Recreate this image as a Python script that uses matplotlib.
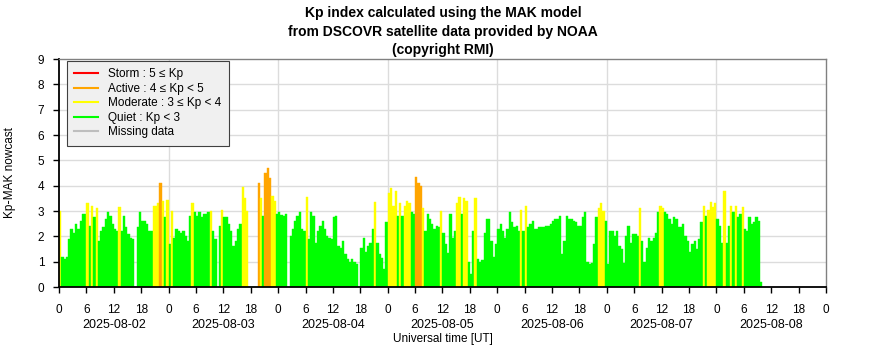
import matplotlib
matplotlib.use("Agg")
import matplotlib.pyplot as plt
from matplotlib.lines import Line2D

# Kp-MAK nowcast, one value per 30 min from 2025-08-02 00:00 UT
# (0 = no data)
kp_aug02 = [
    3.0, 1.2, 1.1, 1.2, 1.9, 2.3, 2.15, 2.5, 2.3, 2.6,
    2.9, 2.9, 3.3, 2.4, 3.2, 2.75, 3.1, 1.8, 2.2, 2.35,
    2.7, 2.95, 2.8, 2.5, 2.3, 2.2, 3.15, 2.2, 2.8, 2.35,
    2.1, 1.95, 1.9, 0, 2.35, 2.95, 2.6, 2.6, 2.5, 2.2,
    2.2, 3.2, 3.2, 3.3, 4.1, 3.4, 2.75, 3.45,
]
kp_aug03 = [
    1.7, 3.0, 1.95, 2.3, 2.2, 2.15, 2.2, 2.0, 1.8, 2.8,
    3.3, 2.95, 2.8, 2.95, 2.75, 2.9, 2.9, 2.95, 3.0, 2.2,
    1.9, 0, 2.4, 3.05, 2.75, 2.75, 2.5, 2.2, 1.6, 1.8,
    2.3, 2.5, 3.95, 3.5, 3.0, 0, 0, 0, 0, 4.1,
    3.5, 2.8, 4.5, 4.7, 4.3, 3.6, 3.4, 2.9,
]
kp_aug04 = [
    2.95, 2.85, 2.8, 2.9, 0, 2.0, 2.3, 2.6, 2.8, 2.95,
    2.3, 2.2, 3.55, 1.9, 2.95, 2.8, 1.75, 2.2, 2.4, 2.6,
    2.3, 2.0, 1.95, 1.9, 2.75, 2.8, 1.6, 1.55, 1.8, 1.3,
    1.1, 1.0, 1.1, 1.0, 0.9, 0, 1.55, 1.95, 1.4, 1.6,
    1.75, 2.3, 3.35, 1.75, 1.3, 1.15, 0.7, 2.55,
]
kp_aug05 = [
    3.7, 3.9, 3.2, 3.8, 2.8, 3.3, 2.8, 3.2, 3.4, 3.3,
    2.95, 2.9, 4.35, 4.1, 4.0, 3.1, 2.2, 2.9, 2.7, 2.5,
    2.3, 2.4, 2.35, 3.0, 2.15, 1.7, 1.35, 2.9, 1.95, 2.2,
    3.3, 3.55, 2.9, 3.5, 3.4, 1.0, 0.5, 2.2, 3.5, 1.1,
    1.0, 1.05, 2.15, 2.7, 2.7, 1.8, 1.2, 1.7,
]
kp_aug06 = [
    2.3, 2.5, 2.2, 1.95, 2.3, 2.95, 2.55, 2.35, 2.4, 2.2,
    3.05, 2.2, 3.2, 2.35, 2.5, 2.6, 2.3, 2.3, 2.35, 2.35,
    2.35, 2.4, 2.4, 2.5, 2.6, 2.7, 2.7, 2.8, 1.3, 1.8,
    2.8, 2.7, 2.7, 2.6, 2.55, 2.4, 2.4, 2.75, 2.95, 1.0,
    0.9, 0.95, 1.7, 2.75, 3.1, 3.3, 3.0, 2.6,
]
kp_aug07 = [
    0.9, 2.2, 2.2, 2.0, 2.2, 1.6, 1.5, 0.95, 2.0, 2.4,
    1.75, 2.1, 2.1, 2.0, 3.1, 1.8, 1.0, 1.55, 1.95, 1.8,
    1.95, 2.15, 2.95, 3.2, 3.1, 2.95, 2.9, 2.7, 2.5, 2.75,
    2.7, 2.35, 2.35, 2.5, 2.0, 1.8, 1.4, 1.7, 1.8, 1.5,
    1.9, 2.55, 3.2, 2.8, 3.05, 3.35, 3.15, 3.3,
]
kp_aug08 = [
    2.7, 2.4, 1.75, 3.8, 1.75, 2.4, 3.2, 2.95, 3.2, 2.75,
    2.9, 3.15, 2.3, 2.2, 2.75, 2.5, 2.55, 2.75, 2.6, 0.2,
]

step_hours = 0.5
days = ["2025-08-02", "2025-08-03", "2025-08-04", "2025-08-05",
        "2025-08-06", "2025-08-07", "2025-08-08"]
hour_labels = ["0", "6", "12", "18"]

legend_labels = ["Storm : 5 \u2264 Kp", "Active : 4 \u2264 Kp < 5",
                 "Moderate : 3 \u2264 Kp < 4", "Quiet : Kp < 3", "Missing data"]
legend_colors = ["#FF0000", "#FFA500", "#FFFF00", "#00FF00", "#BEBEBE"]


def kp_color(v):
    if v >= 5:
        return legend_colors[0]
    if v >= 4:
        return legend_colors[1]
    if v >= 3:
        return legend_colors[2]
    return legend_colors[3]


def main() -> None:
    plt.rcParams.update({
        "font.family": ["Liberation Sans", "DejaVu Sans"],
        "font.size": 8.5,
    })

    kp = kp_aug02 + kp_aug03 + kp_aug04 + kp_aug05 + kp_aug06 + kp_aug07 + kp_aug08
    hours = [i * step_hours for i in range(len(kp))]
    colors = [kp_color(v) for v in kp]

    fig = plt.figure(figsize=(8.86, 3.6), dpi=100)
    ax = fig.add_axes([59 / 886, 73 / 360, 767 / 886, 228 / 360])

    total_hours = 24 * len(days)
    for h in range(24, total_hours, 24):
        ax.axvline(h, color="#DCDCDC", linewidth=1.0, zorder=0)
    for y in range(1, 9):
        ax.axhline(y, color="#DCDCDC", linewidth=1.0, zorder=0)

    ax.bar(hours, kp, width=step_hours, align="edge", color=colors,
           edgecolor=colors, linewidth=0.3, zorder=2)

    ax.set_xlim(0, total_hours)
    ax.set_ylim(0, 9)
    ax.set_yticks(range(0, 10))
    ticks = list(range(0, total_hours + 1, 6))
    ax.set_xticks(ticks)
    ax.set_xticklabels([hour_labels[(t // 6) % 4] for t in ticks])
    ax.tick_params(axis="x", direction="out", length=4.5, width=1.0, pad=8)
    ax.tick_params(axis="y", direction="out", length=4.5, width=1.0, pad=6)

    for d, label in enumerate(days):
        ax.text(d * 24 + 12, -0.168, label, transform=ax.get_xaxis_transform(),
                ha="center", va="center", fontsize=9)
    ax.text(total_hours / 2, -0.228, "Universal time [UT]",
            transform=ax.get_xaxis_transform(), ha="center", va="center", fontsize=8.5)

    fig.text(10 / 886, 1 - 173 / 360, "Kp\u2011MAK nowcast", rotation=90,
             ha="center", va="center", fontsize=8.5)

    for side in ("left", "bottom"):
        ax.spines[side].set_color("black")
        ax.spines[side].set_linewidth(1.3)
    for side in ("top", "right"):
        ax.spines[side].set_color("#808080")
        ax.spines[side].set_linewidth(1.0)

    handles = [Line2D([], [], color=c, linewidth=1.5) for c in legend_colors]
    leg = ax.legend(handles, legend_labels, loc="upper left",
                    bbox_to_anchor=(8 / 767, 1 - 2 / 228), borderaxespad=0,
                    fancybox=False, framealpha=1, facecolor="#F0F0F0",
                    edgecolor="#404040", handlelength=2.0, handletextpad=0.9,
                    labelspacing=0.22, borderpad=0.6, fontsize=8.5)
    leg.get_frame().set_linewidth(0.8)
    leg.set_zorder(5)

    fig.text(0.5, 1 - 6 / 360,
             "Kp index calculated using the MAK model\n"
             "from DSCOVR satellite data provided by NOAA\n"
             "(copyright RMI)",
             ha="center", va="top", fontsize=10, fontweight="bold", linespacing=1.42)

    fig.savefig("out.png", dpi=100)


if __name__ == "__main__":
    main()
